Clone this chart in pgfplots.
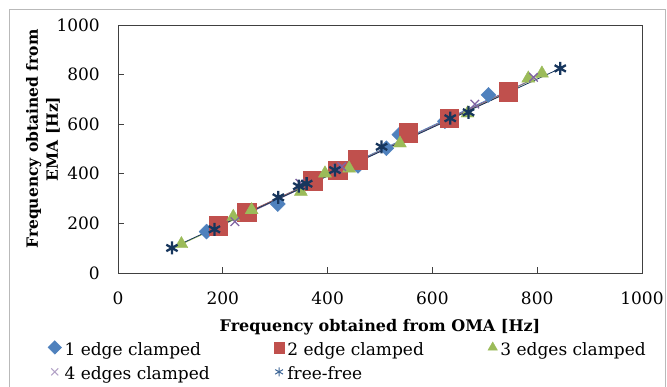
\documentclass[border=0pt]{standalone}
\usepackage{fontspec}
\setmainfont{DejaVu Serif}
\usepackage{pgfplots}
\pgfplotsset{compat=1.18}
\definecolor{sblue}{HTML}{4F81BD}
\definecolor{sred}{HTML}{C0504D}
\definecolor{sgreen}{HTML}{9BBB59}
\definecolor{spurple}{HTML}{8064A2}
\definecolor{snavy}{HTML}{17365D}
\begin{document}
\begin{tikzpicture}[font=\fontsize{17bp}{20bp}\selectfont]
\useasboundingbox (0,0) rectangle (667bp,387bp);
\draw[gray!55, line width=1.5bp] (9.5bp,-5bp) rectangle (665.5bp,377.5bp);
\begin{axis}[
  at={(118bp,114bp)}, anchor=south west,
  scale only axis, width=524bp, height=248bp,
  xmin=0, xmax=1000, ymin=0, ymax=1000,
  xtick={0,200,...,1000}, ytick={0,200,...,1000},
  tick align=inside, xtick pos=bottom, ytick pos=left,
  major tick length=6bp,
  axis line style={black!75, line width=0.8bp},
  every tick/.style={black!75, line width=0.8bp},
  /pgf/number format/assume math mode=true,
  /pgf/number format/1000 sep={},
  ticklabel style={font=\fontsize{17bp}{20bp}\selectfont},
  xticklabel style={anchor=center, yshift=-25bp},
  yticklabel style={anchor=east, inner sep=0pt, xshift=-18bp},
  xlabel={Frequency obtained from OMA [Hz]},
  xlabel style={font=\bfseries\fontsize{16bp}{18bp}\selectfont, at={(rel axis cs:0.5,-0.218)}, anchor=center},
  ylabel={Frequency obtained from\\EMA [Hz]},
  ylabel style={font=\bfseries\fontsize{15.5bp}{20bp}\selectfont, align=center, at={(rel axis cs:-0.143,0.54)}, anchor=center, rotate=0},
  legend columns=3,
  legend cell align=left,
  legend image code/.code={\draw[#1] plot coordinates {(0bp,2bp)};},
  legend style={draw=none, fill=none, inner sep=0pt, at={(rel axis cs:-0.134,-0.272)}, anchor=north west,
    font=\fontsize{17bp}{20bp}\selectfont,
    nodes={inner ysep=1bp},
    /tikz/every odd column/.append style={column sep=1bp},
    /tikz/every even column/.append style={column sep=62bp},
    row sep=8bp},
]
\addplot[only marks, mark=square*, mark size=5.3bp, mark options={rotate=45, draw=sblue, fill=sblue}, legend image post style={mark size=4.8bp}]
  coordinates {(169,167)(305,278)(458,432)(512,503)(537,558)(624,612)(707,718)};
\addlegendentry{1 edge clamped}
\addplot[only marks, mark=square*, mark size=9.3bp, mark options={draw=sred, fill=sred}, legend image post style={mark size=5.3bp}]
  coordinates {(191,190)(246,245)(371,371)(419,415)(457,458)(554,566)(632,624)(745,731)};
\addlegendentry{2 edge clamped}
\addplot[only marks, mark=triangle*, mark size=7.5bp, mark options={draw=sgreen, fill=sgreen}, legend image post style={mark size=5.5bp}]
  coordinates {(121,117)(220,227)(255,254)(349,328)(395,402)(441,422)(538,523)(667,644)(783,785)(809,805)};
\addlegendentry{3 edges clamped}
\addplot[only marks, mark=x, mark size=6bp, mark options={draw=spurple, line width=1.3bp}, legend image post style={mark size=5bp, mark options={draw=spurple!60, line width=1bp}}]
  coordinates {(223,207)(347,362)(418,420)(427,429)(681,681)(793,789)};
\addlegendentry{4 edges clamped}
\addplot[only marks, mark=asterisk, mark size=6.5bp, mark options={draw=snavy, line width=2.3bp}, legend image post style={mark size=4.5bp, mark options={draw=sblue!80!black, line width=1bp}}]
  coordinates {(103,101)(184,176)(306,305)(345,350)(360,360)(414,415)(503,509)(634,624)(669,648)(844,825)};
\addlegendentry{free-free}
\addplot[forget plot, sblue, line width=0.8bp] coordinates {(169,167)(707,700)};
\addplot[forget plot, sred, line width=0.8bp] coordinates {(191,190)(745,730)};
\addplot[forget plot, sgreen, line width=0.8bp] coordinates {(121,116)(809,797)};
\addplot[forget plot, spurple, line width=0.8bp] coordinates {(223,215)(793,783)};
\addplot[forget plot, snavy, line width=0.8bp] coordinates {(103,101)(844,825)};
\end{axis}
\end{tikzpicture}
\end{document}
